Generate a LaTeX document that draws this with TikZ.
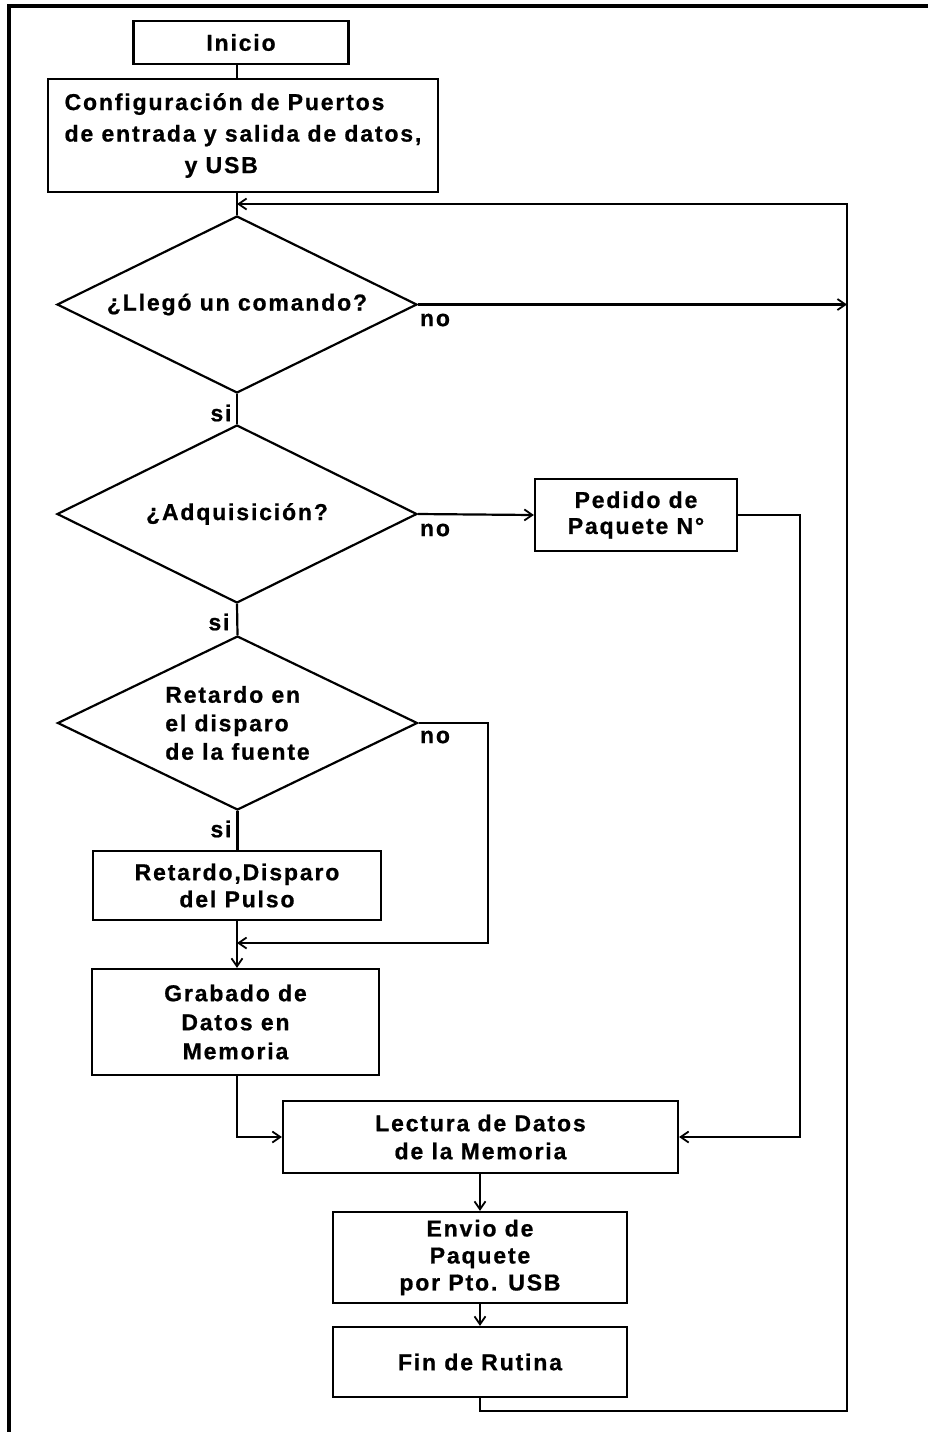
\documentclass[tikz,border=0pt]{standalone}
\usepackage{fontspec}
\setmainfont{Liberation Sans}[LetterSpace=8,BoldFeatures={FakeBold=0.8}]
\usetikzlibrary{shapes.geometric,arrows.meta}
\newcommand{\tf}[1]{\fontsize{11.5}{#1}\selectfont\bfseries}
\begin{document}
\begin{tikzpicture}[x=0.5pt,y=-0.5pt,
  every node/.style={font=\tf{14}},
  box/.style={draw,line width=1.1pt,rectangle,inner sep=0pt,align=center},
  dec/.style={draw,line width=1.1pt,diamond,aspect=2,inner sep=0pt,minimum width=180pt,align=center},
  ln/.style={line width=1.1pt},
  arr/.style={ln,-{Straight Barb[length=4pt,width=5.5pt,line width=0.9pt]}},
  lbl/.style={inner sep=0pt}]
\useasboundingbox (0,0) rectangle (928,1432);
\draw[line width=2pt] (9,1432) -- (9,6) -- (928,6);

\node[box,minimum width=107.5pt,minimum height=21.5pt] (inicio) at (241,42.5) {Inicio};
\node[box,minimum width=195pt,minimum height=56.5pt,align=left,font=\tf{15.75}] (config) at (243,135.5) {Configuración de Puertos\\de entrada y salida de datos,\\\hspace*{60pt}y USB};
\node[dec,minimum height=88.5pt] (d1) at (237,304.5) {¿Llegó un comando?};
\node[dec,minimum height=89pt] (d2) at (237,514) {¿Adquisición?};
\node[dec,minimum height=87pt,align=left,font=\tf{14.25}] (d3) at (237.5,723) {Retardo en\\el disparo\\de la fuente};
\node[box,minimum width=101pt,minimum height=36pt,font=\tf{13}] (pedido) at (636,515) {Pedido de\\Paquete N°};
\node[box,minimum width=144pt,minimum height=34.5pt,font=\tf{13.5}] (retardo) at (237,885.5) {Retardo,Disparo\\del Pulso};
\node[box,minimum width=143.5pt,minimum height=53pt,font=\tf{14.5}] (grabado) at (235.5,1022) {Grabado de\\Datos en\\Memoria};
\node[box,minimum width=197.5pt,minimum height=36pt] (lectura) at (480.5,1137) {Lectura de Datos\\de la Memoria};
\node[box,minimum width=147pt,minimum height=45.5pt,font=\tf{13.5}] (envio) at (480,1257.5) {Envio de\\Paquete\\por Pto. USB};
\node[box,minimum width=147pt,minimum height=35pt] (fin) at (480,1362) {Fin de Rutina};

\node[lbl] (no1) at (435,320) {no};
\node[lbl] (no2) at (435,530) {no};
\node[lbl] (no3) at (435,737) {no};
\node[lbl] (si1) at (221,413) {si};
\node[lbl] (si2) at (219,622) {si};
\node[lbl] (si3) at (221,829) {si};

\coordinate (top) at (847,204);
\coordinate (bot) at (847,1411);
\coordinate (pr) at (800,515);
\coordinate (jr) at (488,943);

\draw[ln] (inicio.south -| d1.north) -- (config.north -| d1.north);
\draw[ln] (config.south -| d1.north) -- (d1.north);
\draw[arr] (fin.south) |- (bot) -- (top) -- (top -| d1.north);
\draw[arr] (d1.east) -- (d1.east -| top);
\draw[ln] (d1.south) -- (d2.north);
\draw[arr] (d2.east) -- (pedido.west);
\draw[arr] (pedido.east) -| (pr) |- (lectura.east);
\draw[ln] (d2.south) -- (d3.north);
\draw[ln] (d3.south) -- (retardo.north -| d3.south);
\draw[arr] (d3.east) -| (jr) -- (jr -| d1.north);
\draw[arr] (retardo.south -| d1.north) -- (grabado.north -| d1.north);
\draw[arr] (grabado.south -| d1.north) |- (lectura.west);
\draw[arr] (lectura.south -| envio.north) -- (envio.north);
\draw[arr] (envio.south) -- (fin.north);
\end{tikzpicture}
\end{document}
